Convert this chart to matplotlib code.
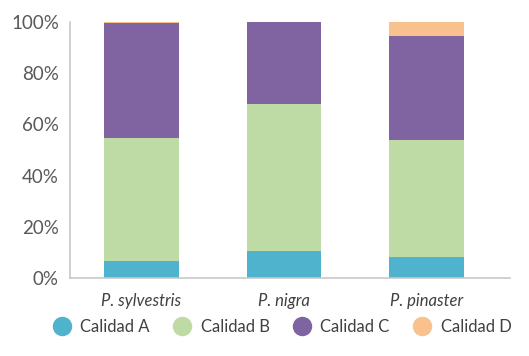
import matplotlib.pyplot as plt
import numpy as np

plt.rcParams['font.family'] = ['Lato', 'DejaVu Sans']

species = ["P. sylvestris", "P. nigra", "P. pinaster"]
labels = ["Calidad A", "Calidad B", "Calidad C", "Calidad D"]
calidad_a = [6.6, 10.5, 8.2]
calidad_b = [48.1, 57.5, 45.7]
calidad_c = [44.9, 32.0, 40.6]
calidad_d = [0.4, 0.0, 5.5]
colors = ["#4FB3CE", "#BEDBA5", "#8064A2", "#F8C18E"]

fig = plt.figure(figsize=(5.29, 3.56), dpi=100)
ax = fig.add_axes([70/529, 1-278/356, 440/529, 256/356])

x = np.arange(len(species))
bottom = np.zeros(len(species))
handles = []
for vals, lab, c in zip([calidad_a, calidad_b, calidad_c, calidad_d], labels, colors):
    ax.bar(x, vals, width=0.526, bottom=bottom, color=c, label=lab)
    bottom += np.array(vals)
    handles.append(plt.Line2D([], [], marker='o', linestyle='', markersize=13,
                              color=c, label=lab))

ax.set_xlim(-0.502, 2.586)
ax.set_ylim(0, 100)
ax.set_yticks(range(0, 101, 20))
ax.set_yticklabels([f"{v}%" for v in range(0, 101, 20)], fontsize=13.5,
                   color="#595959")
ax.set_xticks(x)
ax.set_xticklabels(species, fontsize=12, color="#404040", style='italic')
ax.tick_params(axis='y', length=0, pad=8)
ax.tick_params(axis='x', length=0, pad=11)
for s in ['top', 'right']:
    ax.spines[s].set_visible(False)
for s in ['left', 'bottom']:
    ax.spines[s].set_color("#c8c8c8")
    ax.spines[s].set_linewidth(1.2)

fig.legend(handles=handles, loc='center', bbox_to_anchor=(0.526, 1-327/356),
           ncol=4, frameon=False, fontsize=12, handletextpad=0.1,
           columnspacing=0.95, labelcolor="#404040")

fig.savefig("out.png", dpi=100)
